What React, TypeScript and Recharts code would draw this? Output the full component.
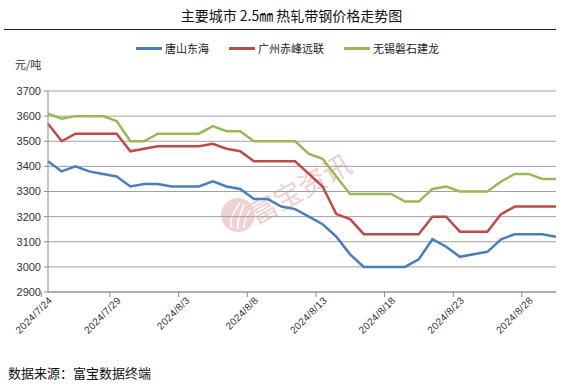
import React from 'react'
import { LineChart, Line, XAxis, YAxis, CartesianGrid, Legend } from 'recharts'

const dates = [
  '2024/7/24', '2024/7/25', '2024/7/26', '2024/7/27', '2024/7/28', '2024/7/29', '2024/7/30', '2024/7/31',
  '2024/8/1', '2024/8/2', '2024/8/3', '2024/8/4', '2024/8/5', '2024/8/6', '2024/8/7', '2024/8/8',
  '2024/8/9', '2024/8/10', '2024/8/11', '2024/8/12', '2024/8/13', '2024/8/14', '2024/8/15', '2024/8/16',
  '2024/8/17', '2024/8/18', '2024/8/19', '2024/8/20', '2024/8/21', '2024/8/22', '2024/8/23', '2024/8/24',
  '2024/8/25', '2024/8/26', '2024/8/27', '2024/8/28', '2024/8/29', '2024/8/30'
]

const tangshan = [
  3420, 3380, 3400, 3380, 3370, 3360, 3320, 3330, 3330, 3320, 3320, 3320, 3340, 3320, 3310, 3270,
  3270, 3240, 3230, 3200, 3170, 3120, 3050, 3000, 3000, 3000, 3000, 3030, 3110, 3080, 3040, 3050,
  3060, 3110, 3130, 3130, 3130, 3120
]

const guangzhou = [
  3570, 3500, 3530, 3530, 3530, 3530, 3460, 3470, 3480, 3480, 3480, 3480, 3490, 3470, 3460, 3420,
  3420, 3420, 3420, 3370, 3320, 3210, 3190, 3130, 3130, 3130, 3130, 3130, 3200, 3200, 3140, 3140,
  3140, 3210, 3240, 3240, 3240, 3240
]

const wuxi = [
  3610, 3590, 3600, 3600, 3600, 3580, 3500, 3500, 3530, 3530, 3530, 3530, 3560, 3540, 3540, 3500,
  3500, 3500, 3500, 3450, 3430, 3360, 3290, 3290, 3290, 3290, 3260, 3260, 3310, 3320, 3300, 3300,
  3300, 3340, 3370, 3370, 3350, 3350
]

const yTicks = [2900, 3000, 3100, 3200, 3300, 3400, 3500, 3600, 3700]

const seriesNames = ['唐山东海', '广州赤峰远联', '无锡磐石建龙']
const seriesColors = ['#4a7ebb', '#be4b48', '#98b954']

const data = dates.map((d, i) => ({
  date: d,
  ts: tangshan[i],
  gz: guangzhou[i],
  wx: wuxi[i]
}))

const FONT = '"Liberation Sans", "Noto Sans CJK SC", sans-serif'
const CJK = '"Noto Sans CJK SC", sans-serif'

const W = 575
const H = 390
const PLOT_LEFT = 48
const PLOT_RIGHT = 556
const BAND = (PLOT_RIGHT - PLOT_LEFT) / dates.length

function DateTick(props: any) {
  const { x, y, payload } = props
  const tx = x - BAND / 2
  const lx = x + 5
  const ly = y + 9
  return (
    <g>
      <line x1={tx} y1={y} x2={tx} y2={y + 5} stroke="#8c8c8c" strokeWidth={1} />
      <text
        x={lx}
        y={ly}
        transform={`rotate(-45, ${lx}, ${ly})`}
        textAnchor="end"
        fontSize={10}
        letterSpacing={0.3}
        fontFamily={FONT}
        fill="#333"
      >
        {payload.value}
      </text>
    </g>
  )
}

function LegendContent() {
  return (
    <div style={{ display: 'flex', justifyContent: 'center', fontFamily: CJK, fontSize: 11, color: '#222' }}>
      {seriesNames.map((n, i) => (
        <div key={n} style={{ display: 'flex', alignItems: 'center', marginRight: i < 2 ? 20 : 0 }}>
          <span style={{ display: 'inline-block', width: 26, height: 3, background: seriesColors[i], marginRight: 3 }} />
          <span>{n}</span>
        </div>
      ))}
    </div>
  )
}

export default function App() {
  return (
    <div style={{ position: 'absolute', left: 0, top: 0, width: W, height: H, background: '#fff', fontFamily: CJK }}>
      <div style={{ position: 'absolute', left: 0, top: 5, width: 575, textAlign: 'center', fontSize: 14, color: '#111', paddingLeft: 8, boxSizing: 'border-box' }}>
        主要城市 2.5㎜ 热轧带钢价格走势图
      </div>
      <div style={{ position: 'absolute', left: 4, top: 29, width: 552, height: 1, background: '#222' }} />
      <div style={{ position: 'absolute', left: 15, top: 56, fontSize: 11, color: '#333' }}>元/吨</div>
      <div style={{ position: 'absolute', left: 8, top: 363, fontSize: 13, color: '#111' }}>数据来源：富宝数据终端</div>

      {/* watermark */}
      <svg width={W} height={H} style={{ position: 'absolute', left: 0, top: 0, pointerEvents: 'none' }}>
        <circle cx={238} cy={215} r={17} fill="#efd3d3" />
        <path d="M232 228 C228 218 236 210 240 202 M238 229 C236 220 242 212 244 204 M244 228 C244 220 248 214 250 210" stroke="#fff" strokeWidth={1.5} fill="none" />
        <text
          x={305}
          y={198}
          transform="rotate(-29, 305, 198)"
          textAnchor="middle"
          fontSize={28}
          fontFamily={CJK}
          fill="#efd0d0"
        >
          富宝资讯
        </text>
      </svg>

      <div style={{ position: 'absolute', left: 0, top: 0 }}>
        <LineChart
          width={W}
          height={H}
          data={data}
          margin={{ top: 75, right: W - PLOT_RIGHT, bottom: 38, left: 8 }}
        >
          <CartesianGrid vertical={false} stroke="#a0a0a0" strokeWidth={1} />
          <XAxis
            dataKey="date"
            interval={4}
            tickSize={0}
            tickMargin={0}
            tickLine={false}
            axisLine={{ stroke: '#8c8c8c' }}
            height={60}
            tick={<DateTick />}
          />
          <YAxis
            domain={[2900, 3700]}
            ticks={yTicks}
            width={40}
            tickSize={4}
            tickMargin={3}
            axisLine={{ stroke: '#8c8c8c' }}
            tickLine={{ stroke: '#8c8c8c' }}
            tick={{ fontSize: 11, fill: '#333', fontFamily: FONT }}
            interval={0}
          />
          <Legend
            verticalAlign="top"
            content={<LegendContent />}
            wrapperStyle={{ top: 40, left: 0, width: W }}
          />
          <Line type="linear" dataKey="ts" name={seriesNames[0]} stroke={seriesColors[0]} strokeWidth={2.5} dot={false} isAnimationActive={false} />
          <Line type="linear" dataKey="gz" name={seriesNames[1]} stroke={seriesColors[1]} strokeWidth={2.5} dot={false} isAnimationActive={false} />
          <Line type="linear" dataKey="wx" name={seriesNames[2]} stroke={seriesColors[2]} strokeWidth={2.5} dot={false} isAnimationActive={false} />
        </LineChart>
      </div>
    </div>
  )
}
